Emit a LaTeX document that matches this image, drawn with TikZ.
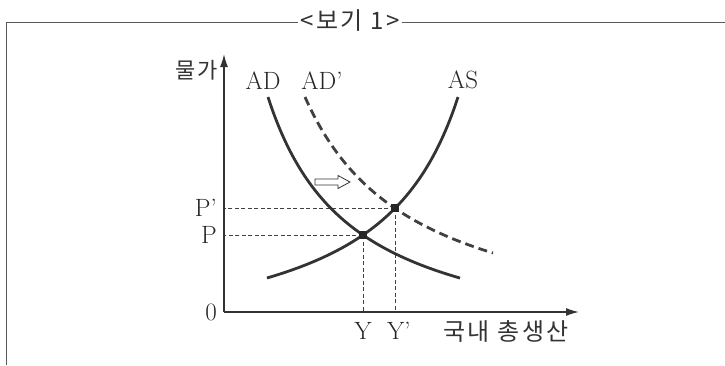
\documentclass[tikz,border=0pt]{standalone}
\usepackage{fontspec}
\newfontfamily\kr{Noto Sans CJK KR}
\newfontfamily\krw[LetterSpace=10]{Noto Sans CJK KR}
\usetikzlibrary{arrows.meta,intersections}
\begin{document}
\begin{tikzpicture}[x=1pt,y=-1pt,
  frame/.style={line width=1.2pt, draw=black!65},
  axis/.style={line width=1.4pt, draw=black!80, -{Latex[length=13pt,width=8pt]}},
  curve/.style={line width=2.8pt, draw=black!80},
  dcurve/.style={line width=2.8pt, draw=black!75, dash pattern=on 9pt off 5pt},
  guide/.style={line width=0.8pt, draw=black!75, dash pattern=on 4pt off 2.5pt},
  lab/.style={font=\fontsize{25}{25}\selectfont, inner sep=0pt, text=black!85},
  klab/.style={font=\kr\fontsize{21}{21}\selectfont, inner sep=0pt, text=black!80},
  sq/.style={fill=black!85, minimum size=8pt, inner sep=0pt}
]
\useasboundingbox (0,0) rectangle (725,365);
% frame with title
\node[klab, font=\krw\fontsize{24}{24}\selectfont, inner xsep=2pt] (title) at (350,21) {<보기 1>};
\coordinate (tl) at (6.5,22.5);
\coordinate (bl) at (6.5,365);
\coordinate (tr) at (725,22.5);
\draw[frame] (bl) -- (tl) -- (title.west |- tl);
\draw[frame] (title.east |- tr) -- (tr);
% axes
\coordinate (O) at (224,312);
\coordinate (ytop) at (224,54);
\coordinate (xend) at (579,312);
\coordinate (ylab) at (0,331);
% curves (paths only, for intersections)
\path[name path=AD] plot[domain=268:460, samples=80, smooth] (\x, {357.5 - 219.57/((\x-183.7)/100)});
\path[name path=ADp] plot[domain=305:493, samples=80, smooth] (\x, {344 - 270.98/((\x-195.3)/100)});
\path[name path=AS] plot[domain=267:458, samples=80, smooth] (\x, {358.7 - 222.93/((543.2-\x)/100)});
\path[name intersections={of=AD and AS, by={E1}}];
\path[name intersections={of=ADp and AS, by={E2}}];
% guides
\draw[guide] (E1) -- (E1 -| O);
\draw[guide] (E1) -- (E1 |- O);
\draw[guide] (E2) -- (E2 -| O);
\draw[guide] (E2) -- (E2 |- O);
% axes drawn
\draw[axis] (O) -- (ytop);
\draw[axis] (O) -- (xend);
% curves drawn
\draw[curve] plot[domain=268:460, samples=80, smooth] (\x, {357.5 - 219.57/((\x-183.7)/100)});
\draw[dcurve] plot[domain=305:493, samples=80, smooth] (\x, {344 - 270.98/((\x-195.3)/100)});
\draw[curve] plot[domain=267:458, samples=80, smooth] (\x, {358.7 - 222.93/((543.2-\x)/100)});
% equilibrium points
\node[sq] (e1) at (E1) {};
\node[sq] (e2) at (E2) {};
% shift arrow
\draw[line width=0.8pt, draw=black!80, fill=white] (315,179) -- (338,179) -- (338,175.5) -- (350,182) -- (338,188.5) -- (338,185) -- (315,185) -- cycle;
% labels
\node[klab, font=\krw\fontsize{22}{22}\selectfont, anchor=east] (price) at (218,70) {물가};
\node[lab] (ad) at (263,81) {AD};
\node[lab] (adp) at (322,81) {AD’};
\node[lab] (as) at (463,80) {AS};
\node[lab, anchor=east] (P) at ([xshift=-7pt]E1 -| O) {P};
\node[lab, anchor=east] (Pp) at ([xshift=-7pt]E2 -| O) {P’};
\node[lab, anchor=east] (zero) at (217,312) {0};
\node[lab] (Y) at (E1 |- ylab) {Y};
\node[lab] (Yp) at ([xshift=4pt]E2 |- ylab) {Y’};
\node[klab, font=\krw\fontsize{24}{24}\selectfont] (gdp) at (506,331) {국내 총생산};
\end{tikzpicture}
\end{document}
